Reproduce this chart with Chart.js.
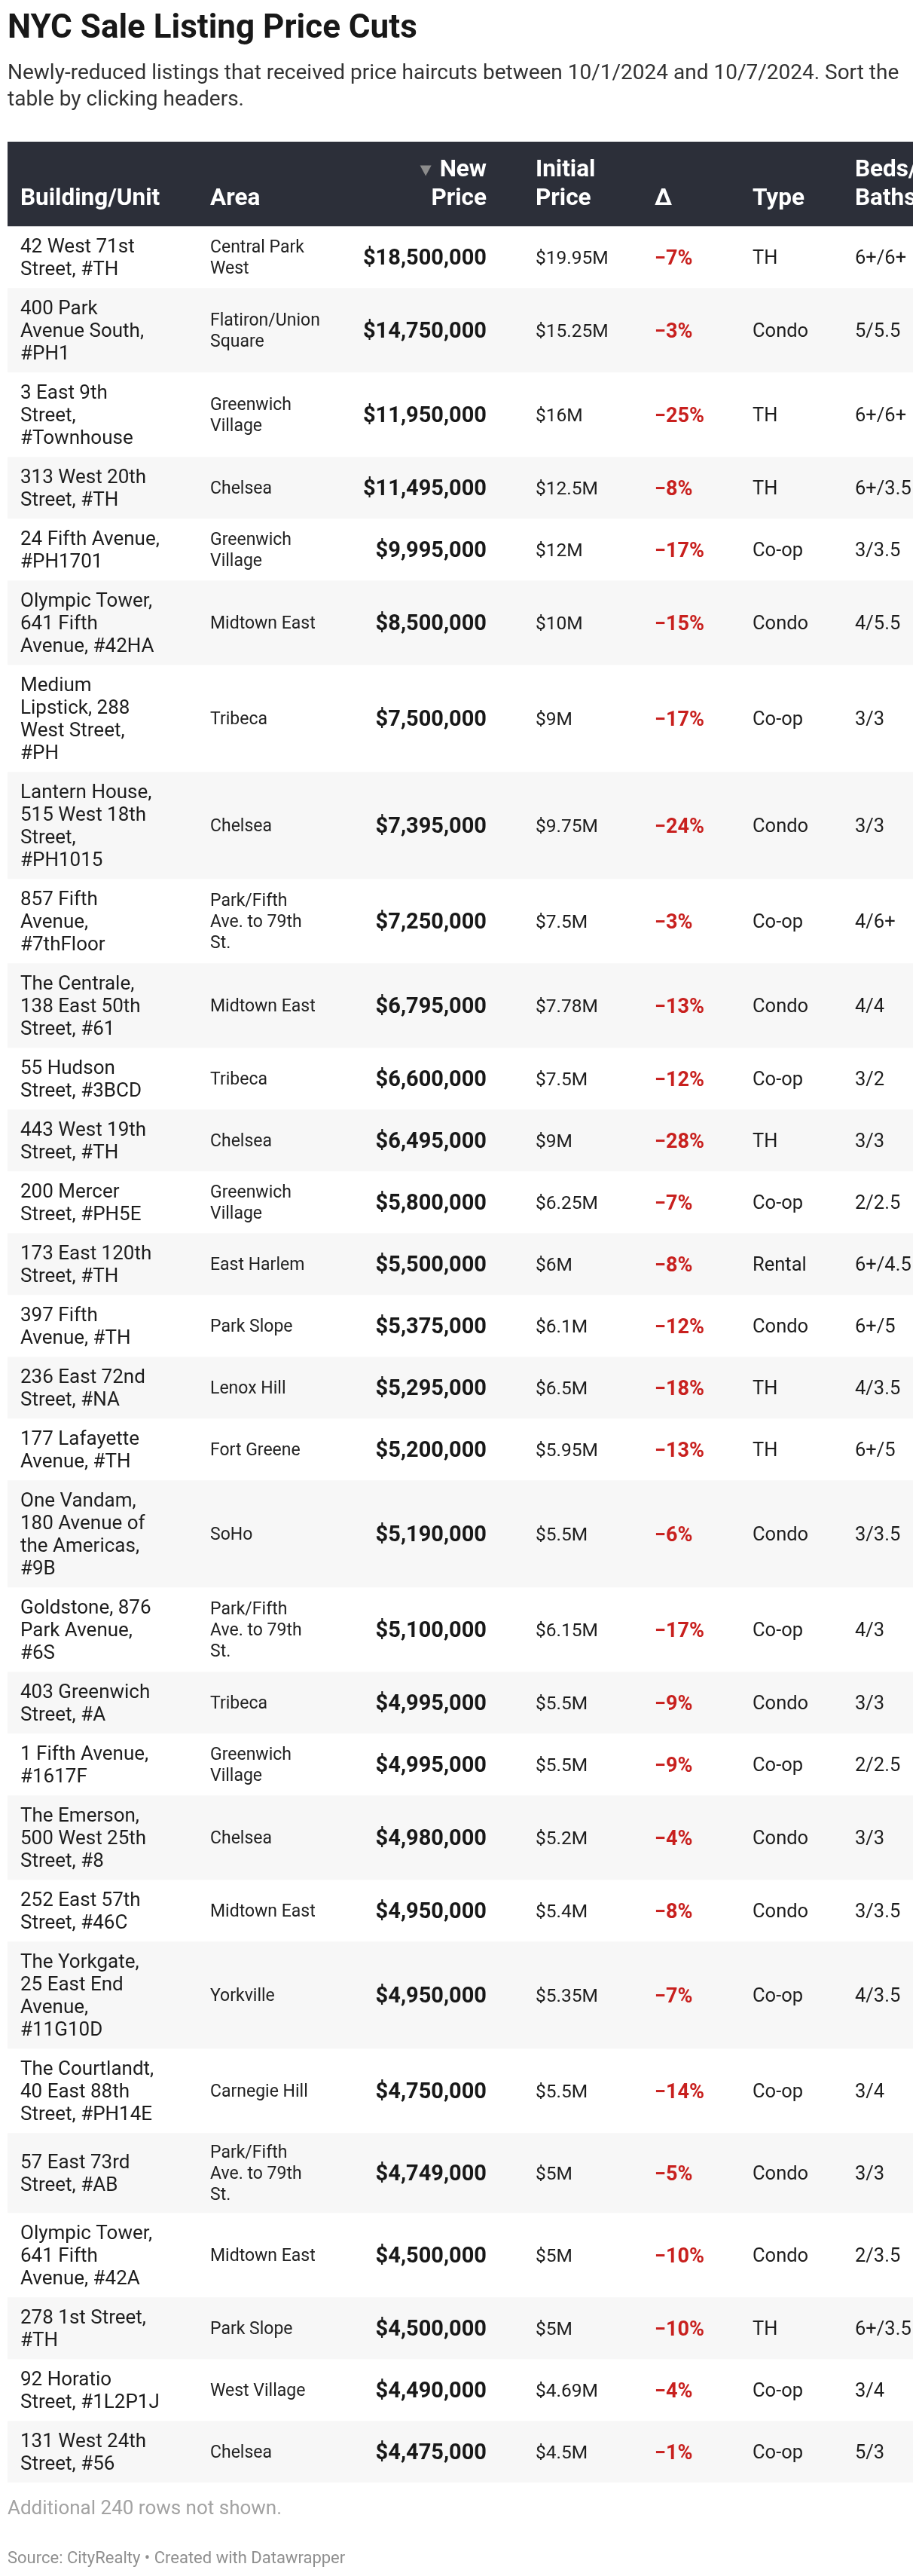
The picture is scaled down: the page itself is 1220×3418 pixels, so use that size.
<!DOCTYPE html>
<html>
<head>
<meta charset="utf-8">
<script src="https://cdn.jsdelivr.net/npm/chart.js@4.4.1/dist/chart.umd.min.js"></script>
<style>
  html, body { margin: 0; padding: 0; background: #fff; }
  canvas { display: block; }
</style>
</head>
<body>
<canvas id="table" width="1220" height="3418"></canvas>
<script>
const title = 'NYC Sale Listing Price Cuts';
const subtitle = 'Newly-reduced listings that received price haircuts between 10/1/2024 and 10/7/2024. Sort the table by clicking headers.';
const note = 'Additional 240 rows not shown.';
const source = 'Source: CityRealty \u2022 Created with Datawrapper';

const headers = [['Building/Unit'], ['Area'], ['New', 'Price'], ['Initial', 'Price'], ['\u0394'], ['Type'], ['Beds/', 'Baths']];

const buildings = [
  '42 West 71st Street, #TH',
  '400 Park Avenue South, #PH1',
  '3 East 9th Street, #Townhouse',
  '313 West 20th Street, #TH',
  '24 Fifth Avenue, #PH1701',
  'Olympic Tower, 641 Fifth Avenue, #42HA',
  'Medium Lipstick, 288 West Street, #PH',
  'Lantern House, 515 West 18th Street, #PH1015',
  '857 Fifth Avenue, #7thFloor',
  'The Centrale, 138 East 50th Street, #61',
  '55 Hudson Street, #3BCD',
  '443 West 19th Street, #TH',
  '200 Mercer Street, #PH5E',
  '173 East 120th Street, #TH',
  '397 Fifth Avenue, #TH',
  '236 East 72nd Street, #NA',
  '177 Lafayette Avenue, #TH',
  'One Vandam, 180 Avenue of the Americas, #9B',
  'Goldstone, 876 Park Avenue, #6S',
  '403 Greenwich Street, #A',
  '1 Fifth Avenue, #1617F',
  'The Emerson, 500 West 25th Street, #8',
  '252 East 57th Street, #46C',
  'The Yorkgate, 25 East End Avenue, #11G10D',
  'The Courtlandt, 40 East 88th Street, #PH14E',
  '57 East 73rd Street, #AB',
  'Olympic Tower, 641 Fifth Avenue, #42A',
  '278 1st Street, #TH',
  '92 Horatio Street, #1L2P1J',
  '131 West 24th Street, #56'
];

const areas = [
  'Central Park West', 'Flatiron/Union Square', 'Greenwich Village', 'Chelsea', 'Greenwich Village',
  'Midtown East', 'Tribeca', 'Chelsea', 'Park/Fifth Ave. to 79th St.', 'Midtown East',
  'Tribeca', 'Chelsea', 'Greenwich Village', 'East Harlem', 'Park Slope',
  'Lenox Hill', 'Fort Greene', 'SoHo', 'Park/Fifth Ave. to 79th St.', 'Tribeca',
  'Greenwich Village', 'Chelsea', 'Midtown East', 'Yorkville', 'Carnegie Hill',
  'Park/Fifth Ave. to 79th St.', 'Midtown East', 'Park Slope', 'West Village', 'Chelsea'
];

const newPrice = [
  18500000, 14750000, 11950000, 11495000, 9995000, 8500000, 7500000, 7395000, 7250000, 6795000,
  6600000, 6495000, 5800000, 5500000, 5375000, 5295000, 5200000, 5190000, 5100000, 4995000,
  4995000, 4980000, 4950000, 4950000, 4750000, 4749000, 4500000, 4500000, 4490000, 4475000
];

// millions
const initialPrice = [
  19.95, 15.25, 16, 12.5, 12, 10, 9, 9.75, 7.5, 7.78,
  7.5, 9, 6.25, 6, 6.1, 6.5, 5.95, 5.5, 6.15, 5.5,
  5.5, 5.2, 5.4, 5.35, 5.5, 5, 5, 5, 4.69, 4.5
];

const delta = [
  -7, -3, -25, -8, -17, -15, -17, -24, -3, -13,
  -12, -28, -7, -8, -12, -18, -13, -6, -17, -9,
  -9, -4, -8, -7, -14, -5, -10, -10, -4, -1
];

const types = [
  'TH', 'Condo', 'TH', 'TH', 'Co-op', 'Condo', 'Co-op', 'Condo', 'Co-op', 'Condo',
  'Co-op', 'TH', 'Co-op', 'Rental', 'Condo', 'TH', 'TH', 'Condo', 'Co-op', 'Condo',
  'Co-op', 'Condo', 'Condo', 'Co-op', 'Co-op', 'Condo', 'Condo', 'TH', 'Co-op', 'Co-op'
];

const bedsBaths = [
  '6+/6+', '5/5.5', '6+/6+', '6+/3.5', '3/3.5', '4/5.5', '3/3', '3/3', '4/6+', '4/4',
  '3/2', '3/3', '2/2.5', '6+/4.5', '6+/5', '4/3.5', '6+/5', '3/3.5', '4/3', '3/3',
  '2/2.5', '3/3', '3/3.5', '4/3.5', '3/4', '3/3', '2/3.5', '6+/3.5', '3/4', '5/3'
];

const FAMILY = 'Roboto, "Noto Sans", sans-serif';
const fBody = '26px ' + FAMILY;
const fCell = '25.5px ' + FAMILY;
const fInit = '24.5px ' + FAMILY;
const fArea = '23px ' + FAMILY;
const fPrice = 'bold 29px ' + FAMILY;
const fDelta = 'bold 27px ' + FAMILY;
const fHead = 'bold 31.5px ' + FAMILY;
const fSub = '28px ' + FAMILY;

const HEADER_H = 112;
const TABLE_W = 1202;
// column anchors on the 'col' axis
const COL = { building: 17, area: 269, price: 636, initial: 701, delta: 859, type: 989, beds: 1125 };

const canvas = document.getElementById('table');
const ctx = canvas.getContext('2d');

function wrap(text, font, maxW) {
  ctx.font = font;
  const lines = [];
  let line = '';
  text.split(' ').forEach(w => {
    const test = line ? line + ' ' + w : w;
    if (line && ctx.measureText(test).width > maxW) {
      lines.push(line);
      line = w;
    } else {
      line = test;
    }
  });
  if (line) lines.push(line);
  return lines;
}

const bLines = buildings.map(b => wrap(b, fBody, 189));
const aLines = areas.map(a => wrap(a, fArea, 146));
const rowH = bLines.map((b, i) => Math.max(b.length * 30, aLines[i].length * 28) + 22);
const rowTop = [];
let acc = HEADER_H;
rowH.forEach(h => { rowTop.push(acc); acc += h; });
const tableH = acc;
const subLines = wrap(subtitle, fSub, 1205);

const datasets = [{ label: 'header', data: [[0, HEADER_H]], backgroundColor: '#2c2f39' }];
rowTop.forEach((t, i) => {
  datasets.push({
    label: buildings[i],
    data: [[t, t + rowH[i]]],
    backgroundColor: i % 2 ? '#f7f7f7' : '#ffffff'
  });
});
datasets.forEach(d => {
  d.grouped = false;
  d.barPercentage = 1;
  d.categoryPercentage = 1;
  d.borderWidth = 0;
});

function drawLines(c, yS, lines, x, center, lh, size) {
  const n = lines.length;
  lines.forEach((t, k) => {
    const v = center + (k - (n - 1) / 2) * lh;
    c.fillText(t, x, yS.getPixelForValue(v) + size * 0.36);
  });
}

const tableText = {
  id: 'tableText',
  afterDraw(chart) {
    const c = chart.ctx;
    const a = chart.chartArea;
    const yS = chart.scales.y;
    const xS = chart.scales.col;
    const X = k => xS.getPixelForValue(COL[k]);

    c.save();
    c.textBaseline = 'alphabetic';

    // title, description
    c.textAlign = 'left';
    c.fillStyle = '#181818';
    c.font = 'bold 44px ' + FAMILY;
    c.fillText(title, 10, 50);
    c.fillStyle = '#333333';
    c.font = fSub;
    subLines.forEach((t, k) => c.fillText(t, 10, 105 + k * 35));

    // notes
    c.fillStyle = '#a3a3a3';
    c.font = '26px ' + FAMILY;
    c.fillText(note, 10, a.bottom + 42);
    c.fillStyle = '#8f8f8f';
    c.font = '22px ' + FAMILY;
    c.fillText(source, 10, a.bottom + 107);

    c.beginPath();
    c.rect(a.left, a.top, a.right - a.left, a.bottom - a.top);
    c.clip();

    // header
    c.fillStyle = '#ffffff';
    c.font = fHead;
    const keys = ['building', 'area', 'price', 'initial', 'delta', 'type', 'beds'];
    headers.forEach((h, j) => {
      c.textAlign = keys[j] === 'price' ? 'right' : 'left';
      h.forEach((t, k) => {
        const v = HEADER_H - 40 - (h.length - 1 - k) * 38;
        c.fillText(t, X(keys[j]), yS.getPixelForValue(v) + 32 * 0.36);
      });
    });
    // sort arrow
    const newW = c.measureText('New').width;
    const ax = X('price') - newW - 11;
    const ay = yS.getPixelForValue(HEADER_H - 78) + 11.5;
    c.fillStyle = '#8c8c8c';
    c.beginPath();
    c.moveTo(ax - 15, ay - 14);
    c.lineTo(ax, ay - 14);
    c.lineTo(ax - 7.5, ay);
    c.closePath();
    c.fill();

    // body cells
    rowTop.forEach((t, i) => {
      const mid = t + rowH[i] / 2;
      c.textAlign = 'left';
      c.fillStyle = '#1d1d1d';
      c.font = fBody;
      drawLines(c, yS, bLines[i], X('building'), mid, 30, 26);
      c.font = fArea;
      c.fillStyle = '#222222';
      drawLines(c, yS, aLines[i], X('area'), mid, 28, 23);
      c.fillStyle = '#1d1d1d';
      c.font = fInit;
      drawLines(c, yS, ['$' + initialPrice[i] + 'M'], X('initial'), mid, 30, 24.5);
      c.font = fCell;
      drawLines(c, yS, [types[i]], X('type'), mid, 30, 25.5);
      drawLines(c, yS, [bedsBaths[i]], X('beds'), mid, 30, 25.5);
      c.font = fDelta;
      c.fillStyle = '#c8201e';
      drawLines(c, yS, ['\u2212' + Math.abs(delta[i]) + '%'], X('delta'), mid, 30, 27);
      c.font = fPrice;
      c.fillStyle = '#181818';
      c.textAlign = 'right';
      drawLines(c, yS, ['$' + newPrice[i].toLocaleString('en-US')], X('price'), mid, 30, 29);
    });
    c.restore();
  }
};

const chart = new Chart(ctx, {
  type: 'bar',
  data: { labels: ['rows'], datasets: datasets },
  options: {
    responsive: false,
    animation: false,
    events: [],
    layout: { padding: { left: 10, right: 1220 - 10 - TABLE_W, top: 188, bottom: 3418 - 188 - tableH } },
    plugins: { legend: { display: false }, tooltip: { enabled: false }, title: { display: false } },
    scales: {
      x: { type: 'category', display: false, offset: true },
      col: { type: 'linear', axis: 'x', display: false, offset: false, min: 0, max: TABLE_W },
      y: {
        type: 'linear',
        reverse: true,
        min: 0,
        max: tableH,
        z: 1,
        afterBuildTicks: s => { s.ticks = rowTop.slice(1).map(v => ({ value: v })); },
        ticks: { display: false },
        border: { display: false },
        grid: { color: '#e3e3e3', lineWidth: 2, drawTicks: false }
      }
    }
  },
  plugins: [tableText]
});
</script>
</body>
</html>
